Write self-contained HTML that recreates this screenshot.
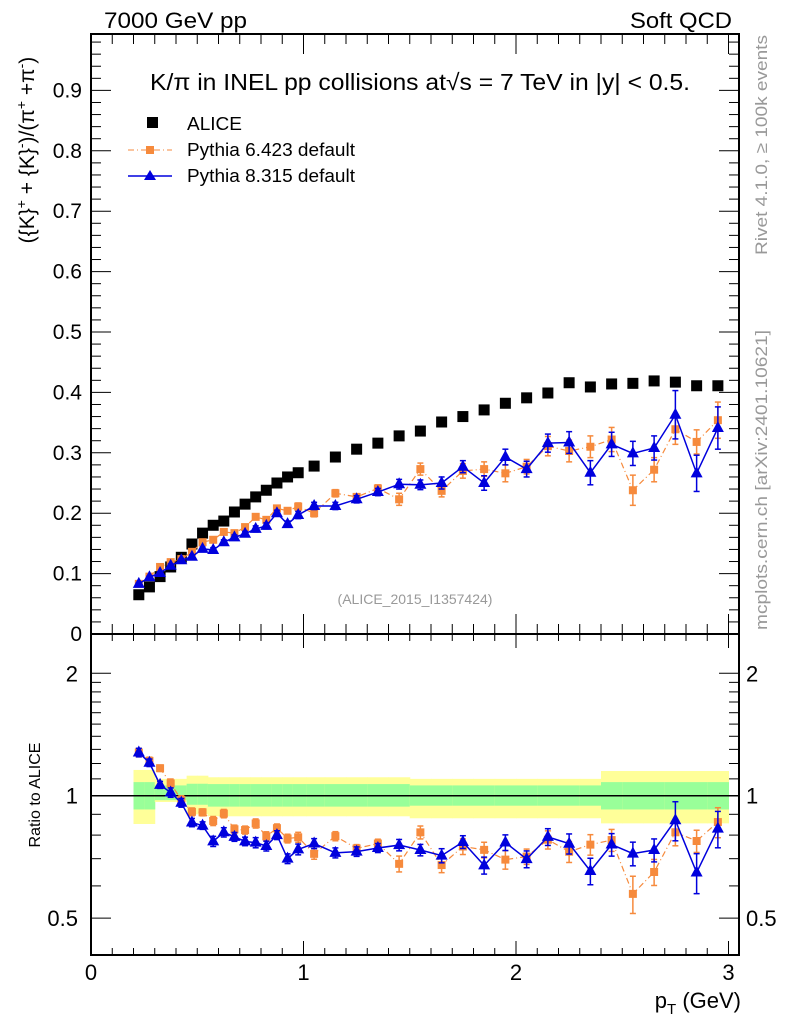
<!DOCTYPE html>
<html><head><meta charset="utf-8"><style>
html,body{margin:0;padding:0;background:#fff;}
svg text{font-family:"Liberation Sans",sans-serif;}
</style></head><body>
<svg id="c" width="786" height="1024" viewBox="0 0 786 1024" xmlns="http://www.w3.org/2000/svg">
<g id="bands"></g>
<g id="axes"></g>
<g id="marks"></g>
<text x="104" y="28" font-size="22" textLength="143" lengthAdjust="spacingAndGlyphs">7000 GeV pp</text>
<text x="630" y="28" font-size="22" textLength="102" lengthAdjust="spacingAndGlyphs">Soft QCD</text>
<text x="150" y="90" font-size="23" textLength="540" lengthAdjust="spacingAndGlyphs">K/π in INEL pp collisions at√s =  7 TeV in |y| &lt; 0.5.</text>
<text x="415" y="604" font-size="14" fill="#999" text-anchor="middle">(ALICE_2015_I1357424)</text>
<text transform="translate(767,255) rotate(-90)" font-size="17" fill="#999" textLength="220" lengthAdjust="spacingAndGlyphs">Rivet 4.1.0, ≥ 100k events</text>
<text transform="translate(767,630) rotate(-90)" font-size="17" fill="#999" textLength="300" lengthAdjust="spacingAndGlyphs">mcplots.cern.ch [arXiv:2401.10621]</text>
<text transform="translate(34,150) rotate(-90)" font-size="21" text-anchor="middle">({K}<tspan dy="-8" font-size="14">+</tspan><tspan dy="8"> + {K}</tspan><tspan dy="-8" font-size="14">-</tspan><tspan dy="8">)/(π</tspan><tspan dy="-8" font-size="14">+</tspan><tspan dy="8"> +π</tspan><tspan dy="-8" font-size="14">-</tspan><tspan dy="8">)</tspan></text>
<text transform="translate(40,795) rotate(-90)" font-size="16" text-anchor="middle">Ratio to ALICE</text>
<text x="741" y="1008" font-size="22" text-anchor="end">p<tspan dy="6" font-size="15">T</tspan><tspan dy="-6"> (GeV)</tspan></text>
<g>
<rect x="147" y="117" width="11" height="11" fill="#000"/>
<text x="187" y="130" font-size="18" textLength="55" lengthAdjust="spacingAndGlyphs">ALICE</text>
<line x1="128" y1="150" x2="172" y2="150" stroke="#f68a3c" stroke-width="1" stroke-dasharray="6,3,1,3"/>
<rect x="146" y="146" width="8" height="8" fill="#f68a3c"/>
<text x="187" y="156" font-size="18" textLength="168" lengthAdjust="spacingAndGlyphs">Pythia 6.423 default</text>
<line x1="128" y1="176" x2="172" y2="176" stroke="#0000dd" stroke-width="1.5"/>
<polygon points="150,170 156,180 144,180" fill="#0000dd"/>
<text x="187" y="182" font-size="18" textLength="168" lengthAdjust="spacingAndGlyphs">Pythia 8.315 default</text>
</g>
</svg>
<script>
const pT = [0.225,0.275,0.325,0.375,0.425,0.475,0.525,0.575,0.625,0.675,0.725,0.775,0.825,0.875,0.925,0.975,1.05,1.15,1.25,1.35,1.45,1.55,1.65,1.75,1.85,1.95,2.05,2.15,2.25,2.35,2.45,2.55,2.65,2.75,2.85,2.95];
const alice = [0.065,0.078,0.095,0.111,0.127,0.149,0.167,0.180,0.187,0.202,0.215,0.227,0.238,0.250,0.260,0.267,0.278,0.293,0.306,0.316,0.328,0.336,0.351,0.360,0.371,0.382,0.391,0.399,0.416,0.409,0.414,0.415,0.419,0.417,0.411,0.411];
const py6 = [0.083,0.095,0.111,0.119,0.124,0.136,0.152,0.156,0.169,0.167,0.177,0.194,0.189,0.208,0.204,0.211,0.200,0.233,0.227,0.241,0.223,0.273,0.237,0.270,0.273,0.266,0.277,0.311,0.303,0.310,0.322,0.238,0.272,0.339,0.318,0.354];
const py6err = [0.002,0.002,0.002,0.003,0.003,0.003,0.003,0.004,0.004,0.004,0.004,0.005,0.005,0.005,0.005,0.006,0.006,0.006,0.005,0.006,0.010,0.010,0.010,0.012,0.012,0.014,0.012,0.016,0.018,0.018,0.020,0.025,0.020,0.025,0.020,0.030];
const py8 = [0.083,0.094,0.101,0.113,0.122,0.128,0.141,0.139,0.152,0.160,0.166,0.174,0.179,0.200,0.182,0.197,0.212,0.212,0.223,0.235,0.248,0.247,0.250,0.277,0.250,0.293,0.273,0.316,0.317,0.267,0.314,0.299,0.308,0.363,0.266,0.341];
const py8err = [0.002,0.002,0.002,0.003,0.003,0.003,0.003,0.004,0.004,0.004,0.004,0.005,0.005,0.005,0.005,0.006,0.006,0.006,0.006,0.006,0.008,0.008,0.010,0.010,0.012,0.013,0.013,0.015,0.018,0.020,0.020,0.020,0.020,0.040,0.030,0.035];
const yelUp = [1.157,1.157,1.10,1.10,1.10,1.12,1.12,1.11,1.11,1.11,1.11,1.11,1.11,1.11,1.11,1.11,1.11,1.11,1.11,1.11,1.11,1.10,1.10,1.10,1.10,1.10,1.10,1.10,1.10,1.10,1.15,1.15,1.15,1.15,1.15,1.15];
const yelLo = [0.852,0.852,0.965,0.965,0.965,0.90,0.90,0.89,0.89,0.89,0.89,0.89,0.89,0.89,0.89,0.89,0.89,0.89,0.89,0.89,0.89,0.88,0.88,0.88,0.88,0.88,0.88,0.88,0.88,0.88,0.855,0.855,0.855,0.855,0.855,0.855];
const grnUp = [1.08,1.08,1.06,1.06,1.06,1.07,1.07,1.068,1.068,1.068,1.068,1.068,1.068,1.068,1.068,1.068,1.068,1.068,1.068,1.068,1.068,1.06,1.06,1.06,1.06,1.06,1.06,1.06,1.06,1.06,1.08,1.08,1.08,1.08,1.08,1.08];
const grnLo = [0.925,0.925,0.975,0.975,0.975,0.95,0.95,0.94,0.94,0.94,0.94,0.94,0.94,0.94,0.94,0.94,0.94,0.94,0.94,0.94,0.94,0.945,0.945,0.945,0.945,0.945,0.945,0.945,0.945,0.945,0.925,0.925,0.925,0.925,0.925,0.925];
const mainTicks = ["0","0.1","0.2","0.3","0.4","0.5","0.6","0.7","0.8","0.9"];
const ratioTicks = ["0.5","1","2"];
const xTicks = ["0","1","2","3"];

const NS="http://www.w3.org/2000/svg";
const L=91,R=739,T=34,MB=634,RB=955;
const X=v=>L+v*212.5;
const Y=v=>MB-v*604;
const RY=v=>795.7-Math.log2(v)*122.4;
function mk(tag,attrs,parent){const e=document.createElementNS(NS,tag);for(const k in attrs)e.setAttribute(k,attrs[k]);parent.appendChild(e);return e;}
const axes=document.getElementById('axes'),marks=document.getElementById('marks'),bands=document.getElementById('bands');

function edges(i){const lo=i===0?pT[0]-(pT[1]-pT[0])/2:(pT[i-1]+pT[i])/2;const hi=i===pT.length-1?pT[i]+(pT[i]-pT[i-1])/2:(pT[i]+pT[i+1])/2;return [lo,hi];}
for(let i=0;i<pT.length;i++){const [a,b]=edges(i);
 const y=mk('rect',{x:X(a),y:RY(yelUp[i]),width:X(b)-X(a)+0.5,height:RY(yelLo[i])-RY(yelUp[i]),fill:'#ffff99'},bands);
 
 
 const g=mk('rect',{x:X(a),y:RY(grnUp[i]),width:X(b)-X(a)+0.5,height:RY(grnLo[i])-RY(grnUp[i]),fill:'#99ff99'},bands);
 
 
}

const f1=mk('rect',{x:L,y:T,width:R-L,height:MB-T,fill:'none',stroke:'#000','stroke-width':2},axes);


const f2=mk('rect',{x:L,y:MB,width:R-L,height:RB-MB,fill:'none',stroke:'#000','stroke-width':2},axes);


const ul=mk('line',{x1:L,x2:R,y1:RY(1),y2:RY(1),stroke:'#000','stroke-width':1.5},axes);



for(let k=0;k<=49;k++){const v=k*0.02;const y=Y(v);if(y<T)break;const len=(k%5===0)?20:10;
 mk('line',{x1:L,x2:L+len,y1:y,y2:y,stroke:'#000'},axes);mk('line',{x1:R-len,x2:R,y1:y,y2:y,stroke:'#000'},axes);}
mainTicks.forEach((s,i)=>{const t=mk('text',{x:82,y:Y(+s)+7,'font-size':21,'text-anchor':'end'},axes);t.textContent=s;
 
 });
for(let k=0;k<=30;k++){const v=k*0.1;const x=X(v);if(x>R)break;const len=(k%10===0)?20:10;
 mk('line',{x1:x,x2:x,y1:MB,y2:MB-len,stroke:'#000'},axes);mk('line',{x1:x,x2:x,y1:T,y2:T+len,stroke:'#000'},axes);
 mk('line',{x1:x,x2:x,y1:RB,y2:RB-len*0.7,stroke:'#000'},axes);mk('line',{x1:x,x2:x,y1:MB,y2:MB+len*0.7,stroke:'#000'},axes);}
xTicks.forEach(s=>{const t=mk('text',{x:X(+s),y:980,'font-size':22,'text-anchor':'middle'},axes);t.textContent=s;
 
 });
[0.5,0.6,0.7,0.8,0.9,1,1.1,1.2,1.3,1.4,1.5,1.6,1.7,1.8,1.9,2,2.5].forEach(v=>{const y=RY(v);const len=(v===0.5||v===1||v===2)?20:10;
 mk('line',{x1:L,x2:L+len,y1:y,y2:y,stroke:'#000'},axes);mk('line',{x1:R-len,x2:R,y1:y,y2:y,stroke:'#000'},axes);});
ratioTicks.forEach(s=>{const t=mk('text',{x:78,y:RY(+s)+8,'font-size':22,'text-anchor':'end'},axes);t.textContent=s;
 
 
 const t2=mk('text',{x:746,y:RY(+s)+8,'font-size':22},axes);t2.textContent=s;
 
 });

function series(vals,errs,color,dash,tri,yf,name){
 const pts=pT.map((p,i)=>X(p)+','+yf(vals[i],i)).join(' ');
 const pl=mk('polyline',{points:pts,fill:'none',stroke:color,'stroke-width':tri?1.5:1.2},marks);
 if(dash)pl.setAttribute('stroke-dasharray',dash);
 
 
 pT.forEach((p,i)=>{const x=X(p),y=yf(vals[i],i),y1=yf(vals[i]+errs[i],i),y2=yf(vals[i]-errs[i],i);
  mk('line',{x1:x,x2:x,y1:y1,y2:y2,stroke:color,'stroke-width':1.5},marks);
  mk('line',{x1:x-3,x2:x+3,y1:y1,y2:y1,stroke:color,'stroke-width':1.5},marks);
  mk('line',{x1:x-3,x2:x+3,y1:y2,y2:y2,stroke:color,'stroke-width':1.5},marks);
  let m;
  if(tri)m=mk('polygon',{points:`${x},${y-7} ${x+6},${y+4} ${x-6},${y+4}`,fill:color},marks);
  else m=mk('rect',{x:x-4,y:y-4,width:8,height:8,fill:color},marks);
  
  
 });
}
pT.forEach((p,i)=>{const m=mk('rect',{x:X(p)-5.5,y:Y(alice[i])-5.5,width:11,height:11,fill:'#000'},marks);
 
 });
series(py6,py6err,'#f68a3c','6,3,1,3',false,v=>Y(v),'pythia6');
series(py8,py8err,'#0000dd',null,true,v=>Y(v),'pythia8');
series(py6,py6err,'#f68a3c','6,3,1,3',false,(v,i)=>RY(v/alice[i]),'pythia6-ratio');
series(py8,py8err,'#0000dd',null,true,(v,i)=>RY(v/alice[i]),'pythia8-ratio');
</script>
</body></html>
